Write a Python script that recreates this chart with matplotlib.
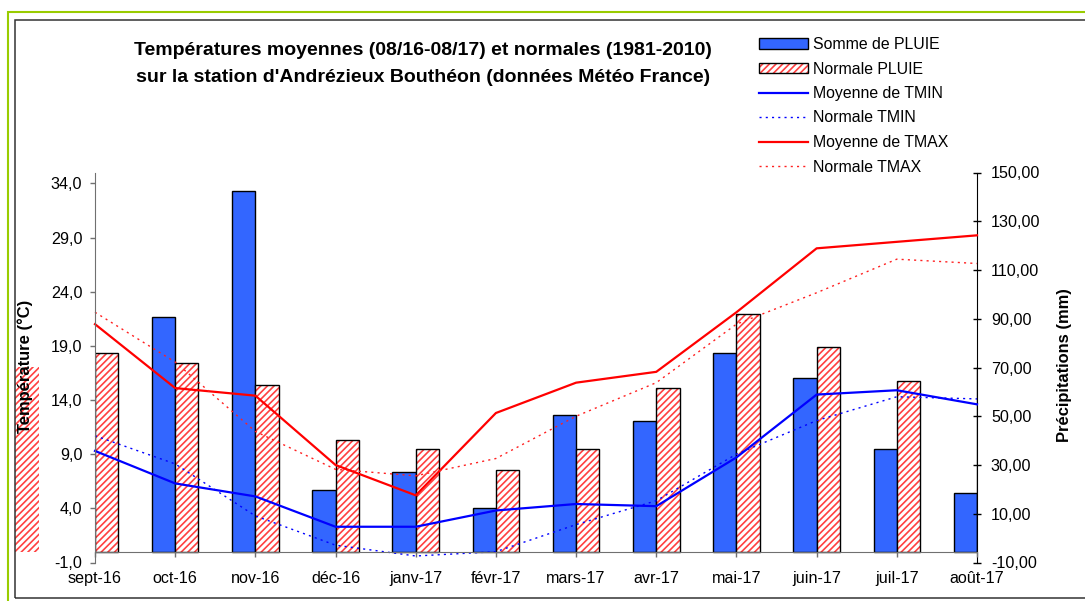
import numpy as np
import matplotlib
matplotlib.use("Agg")
import matplotlib.pyplot as plt
from matplotlib.patches import Rectangle, Patch
from matplotlib.lines import Line2D
from matplotlib.legend_handler import HandlerTuple
import matplotlib.transforms as mtransforms

plt.rcParams['font.family'] = ['Liberation Sans', 'DejaVu Sans']
plt.rcParams['hatch.linewidth'] = 1.2

months = ['sept-16', 'oct-16', 'nov-16', 'déc-16', 'janv-17', 'févr-17',
          'mars-17', 'avr-17', 'mai-17', 'juin-17', 'juil-17', 'août-17']
# rain (mm); first month of the rain sum is not visible on the chart
rain = [np.nan, 90.8, 142.4, 19.8, 27.2, 12.4, 50.4, 48.0, 76.1, 65.5, 36.7, 18.4]
rain_norm = [76.0, 72.0, 62.9, 40.1, 36.7, 28.1, 36.7, 61.4, 92.0, 78.6, 64.4, 70.2]
# temperatures (°C)
tmin = [9.3, 6.3, 5.1, 2.3, 2.3, 3.8, 4.4, 4.2, 8.7, 14.5, 14.9, 13.6]
tmin_norm = [10.7, 8.1, 3.3, 0.6, -0.4, 0.0, 2.5, 4.7, 9.0, 12.1, 14.3, 14.1]
tmax = [21.0, 15.1, 14.4, 8.0, 5.2, 12.8, 15.6, 16.6, 22.1, 28.0, 28.6, 29.2]
tmax_norm = [22.1, 17.5, 11.1, 7.6, 7.0, 8.6, 12.5, 15.6, 21.0, 23.9, 27.0, 26.6]

left_ticks = [-1, 4, 9, 14, 19, 24, 29, 34]
right_ticks = [-10, 10, 30, 50, 70, 90, 110, 130, 150]

W, H = 1085, 601
fig = plt.figure(figsize=(W / 100, H / 100), dpi=100)
ax = fig.add_axes([95 / W, 1 - 562.5 / H, 882 / W, 390 / H])
ax2 = ax.twinx()

x = np.arange(len(months))
bw = 0.29
tlim = (-1, 35)
rlim = (-10, 150)
ax.set_ylim(*tlim)
ax2.set_ylim(*rlim)
ax.set_xlim(0, len(months) - 1)
# bars start from the 0 °C line of the left axis
base_mm = rlim[0] + (0 - tlim[0]) / (tlim[1] - tlim[0]) * (rlim[1] - rlim[0])

rain_h = np.array(rain) - base_mm
norm_h = np.array(rain_norm) - base_mm
ax2.bar(x - bw, rain_h, bw, bottom=base_mm, align='edge',
        color='#3366FF', edgecolor='black', linewidth=1.0)
ax2.bar(x, norm_h, bw, bottom=base_mm, align='edge',
        color='white', edgecolor='#FF4040', hatch='/////', linewidth=0)
ax2.bar(x, norm_h, bw, bottom=base_mm, align='edge',
        color='none', edgecolor='black', linewidth=1.0)

ax.plot(x, tmin, color='#0000FF', lw=1.6, clip_on=False)
ax.plot(x, tmin_norm, color='#0000FF', lw=1.0, ls=(0, (1.5, 3)), clip_on=False)
ax.plot(x, tmax, color='#FF0000', lw=1.6, clip_on=False)
ax.plot(x, tmax_norm, color='#FF2020', lw=1.0, ls=(0, (1.5, 3)), clip_on=False)

ax.set_zorder(ax2.get_zorder() + 1)
ax.patch.set_visible(False)

# stray hatched block next to the y label, as in the source picture
tr = mtransforms.blended_transform_factory(fig.transFigure, ax2.transData)
fig.add_artist(Rectangle((15 / W, base_mm), 24 / W, rain_norm[-1] - base_mm,
                         transform=tr, facecolor='white', edgecolor='#FF4040',
                         hatch='/////', linewidth=0, clip_on=False))

# axes styling
ax.spines['top'].set_visible(False)
ax2.spines['top'].set_visible(False)
ax2.spines['bottom'].set_visible(False)
ax2.spines['left'].set_visible(False)
ax.spines['right'].set_visible(False)
ax.spines['bottom'].set_position(('data', 0))
ax.spines['bottom'].set_color('#707070')
ax.spines['left'].set_color('#707070')
ax2.spines['right'].set_color('black')

ax.set_xticks(x)
ax.set_xticklabels(months)
ax.set_yticks(left_ticks)
ax.set_yticklabels([f"{v:.1f}".replace('.', ',') for v in left_ticks])
ax2.set_yticks(right_ticks)
ax2.set_yticklabels([f"{v:.2f}".replace('.', ',') for v in right_ticks])

fs = 11.6
ax.tick_params(axis='x', direction='out', length=3.6, width=1, color='#707070',
               labelsize=fs, pad=10)
ax.tick_params(axis='y', direction='out', length=3.6, width=1, color='#707070',
               labelsize=fs, pad=5.5)
ax2.tick_params(axis='y', direction='inout', length=6, width=1, color='black',
                labelsize=fs, pad=7)

ax.set_ylabel('Température (°C)', fontsize=11.9, fontweight='bold')
ax.yaxis.set_label_coords(-0.0703, 0.504)
ax2.set_ylabel('Précipitations (mm)', fontsize=11.9, fontweight='bold')
ax2.yaxis.set_label_coords(1.0907, 0.506)

fig.text(423 / W, 1 - 55 / H,
         'Températures moyennes (08/16-08/17) et normales (1981-2010)',
         ha='center', va='baseline', fontsize=14, fontweight='bold')
fig.text(423 / W, 1 - 81.7 / H,
         "sur la station d'Andrézieux Bouthéon (données Météo France)",
         ha='center', va='baseline', fontsize=14, fontweight='bold')

handles = [
    Patch(facecolor='#3366FF', edgecolor='black', linewidth=1.0),
    (Patch(facecolor='white', edgecolor='#FF4040', hatch='/////', linewidth=0),
     Patch(facecolor='none', edgecolor='black', linewidth=1.0)),
    Line2D([], [], color='#0000FF', lw=1.6),
    Line2D([], [], color='#0000FF', lw=1.0, ls=(0, (1.5, 3))),
    Line2D([], [], color='#FF0000', lw=1.6),
    Line2D([], [], color='#FF2020', lw=1.0, ls=(0, (1.5, 3))),
]
labels = ['Somme de PLUIE', 'Normale PLUIE', 'Moyenne de TMIN', 'Normale TMIN',
          'Moyenne de TMAX', 'Normale TMAX']
fig.legend(handles, labels, loc='upper left', bbox_to_anchor=(759 / W, 1 - 37 / H),
           frameon=False, borderpad=0, borderaxespad=0, handlelength=3.1,
           handleheight=0.65, handletextpad=0.3, labelspacing=0.6, fontsize=11.4,
           handler_map={tuple: HandlerTuple(ndivide=1, pad=0)})

# outer frames
fig.add_artist(Rectangle((8 / W, -0.1), 2, 1 - 12 / H + 0.1, transform=fig.transFigure,
                         facecolor='none', edgecolor='#99CC00', linewidth=1.5))
fig.add_artist(Rectangle((15 / W, 1 - 598 / H), 2, (598 - 20) / H,
                         transform=fig.transFigure, facecolor='none',
                         edgecolor='#333333', linewidth=1.1))

plt.savefig("out.png", dpi=100)
